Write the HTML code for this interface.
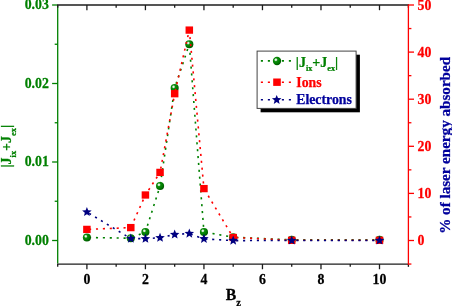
<!DOCTYPE html>
<html><head><meta charset="utf-8"><title>Plot</title>
<style>
html,body{margin:0;padding:0;background:#fff;}
svg{display:block;}
text{font-family:"Liberation Serif","Times New Roman",serif;font-weight:bold;}
</style></head><body>
<svg width="452" height="306" viewBox="0 0 452 306">
<defs>
<radialGradient id="ball" cx="0.37" cy="0.36" r="0.62" fx="0.36" fy="0.35">
<stop offset="0" stop-color="#ffffff"/>
<stop offset="0.14" stop-color="#d8eed8"/>
<stop offset="0.36" stop-color="#0c8c0c"/>
<stop offset="0.75" stop-color="#007a00"/>
<stop offset="1" stop-color="#005a00"/>
</radialGradient>
</defs>
<rect x="0" y="0" width="452" height="306" fill="#ffffff"/>
<g stroke="#008000" stroke-width="1.6" stroke-dasharray="2.1 4.8" stroke-dashoffset="1.75" fill="none"><line x1="130.79" y1="238.20" x2="86.90" y2="237.50"/><line x1="145.42" y1="232.00" x2="130.79" y2="238.20"/><line x1="160.05" y1="186.00" x2="145.42" y2="232.00"/><line x1="174.68" y1="88.00" x2="160.05" y2="186.00"/><line x1="189.31" y1="44.20" x2="174.68" y2="88.00"/><line x1="203.94" y1="232.00" x2="189.31" y2="44.20"/><line x1="233.20" y1="237.20" x2="203.94" y2="232.00"/><line x1="291.72" y1="239.90" x2="233.20" y2="237.20"/><line x1="379.50" y1="239.90" x2="291.72" y2="239.90"/></g>
<g fill="url(#ball)"><circle cx="86.90" cy="237.50" r="4.05"/><circle cx="130.79" cy="238.20" r="4.05"/><circle cx="145.42" cy="232.00" r="4.05"/><circle cx="160.05" cy="186.00" r="4.05"/><circle cx="174.68" cy="88.00" r="4.05"/><circle cx="189.31" cy="44.20" r="4.05"/><circle cx="203.94" cy="232.00" r="4.05"/><circle cx="233.20" cy="237.20" r="4.05"/><circle cx="291.72" cy="239.90" r="4.05"/><circle cx="379.50" cy="239.90" r="4.05"/></g>
<g stroke="#ff0000" stroke-width="1.6" stroke-dasharray="2.1 4.8" stroke-dashoffset="1.75" fill="none"><line x1="130.79" y1="227.60" x2="86.90" y2="229.40"/><line x1="145.42" y1="195.00" x2="130.79" y2="227.60"/><line x1="160.05" y1="172.40" x2="145.42" y2="195.00"/><line x1="174.68" y1="93.70" x2="160.05" y2="172.40"/><line x1="189.31" y1="30.10" x2="174.68" y2="93.70"/><line x1="203.94" y1="188.60" x2="189.31" y2="30.10"/><line x1="233.20" y1="237.50" x2="203.94" y2="188.60"/><line x1="291.72" y1="240.30" x2="233.20" y2="237.50"/><line x1="379.50" y1="240.30" x2="291.72" y2="240.30"/></g>
<g fill="#ff0000"><rect x="83.15" y="225.75" width="7.5" height="7.3"/><rect x="127.04" y="223.95" width="7.5" height="7.3"/><rect x="141.67" y="191.35" width="7.5" height="7.3"/><rect x="156.30" y="168.75" width="7.5" height="7.3"/><rect x="170.93" y="90.05" width="7.5" height="7.3"/><rect x="185.56" y="26.45" width="7.5" height="7.3"/><rect x="200.19" y="184.95" width="7.5" height="7.3"/><rect x="229.45" y="233.85" width="7.5" height="7.3"/><rect x="287.97" y="236.65" width="7.5" height="7.3"/><rect x="375.75" y="236.65" width="7.5" height="7.3"/></g>
<g stroke="#000080" stroke-width="1.6" stroke-dasharray="2.1 4.8" stroke-dashoffset="1.75" fill="none"><line x1="130.79" y1="238.60" x2="86.90" y2="212.00"/><line x1="145.42" y1="238.70" x2="130.79" y2="238.60"/><line x1="160.05" y1="237.70" x2="145.42" y2="238.70"/><line x1="174.68" y1="234.50" x2="160.05" y2="237.70"/><line x1="189.31" y1="233.60" x2="174.68" y2="234.50"/><line x1="203.94" y1="238.90" x2="189.31" y2="233.60"/><line x1="233.20" y1="240.60" x2="203.94" y2="238.90"/><line x1="291.72" y1="240.50" x2="233.20" y2="240.60"/><line x1="379.50" y1="240.50" x2="291.72" y2="240.50"/></g>
<g fill="#000080"><polygon points="86.90,207.00 88.19,210.22 91.66,210.45 88.99,212.68 89.84,216.05 86.90,214.20 83.96,216.05 84.81,212.68 82.14,210.45 85.61,210.22"/><polygon points="130.79,233.60 132.08,236.82 135.55,237.05 132.88,239.28 133.73,242.65 130.79,240.80 127.85,242.65 128.70,239.28 126.03,237.05 129.50,236.82"/><polygon points="145.42,233.70 146.71,236.92 150.18,237.15 147.51,239.38 148.36,242.75 145.42,240.90 142.48,242.75 143.33,239.38 140.66,237.15 144.13,236.92"/><polygon points="160.05,232.70 161.34,235.92 164.81,236.15 162.14,238.38 162.99,241.75 160.05,239.90 157.11,241.75 157.96,238.38 155.29,236.15 158.76,235.92"/><polygon points="174.68,229.50 175.97,232.72 179.44,232.95 176.77,235.18 177.62,238.55 174.68,236.70 171.74,238.55 172.59,235.18 169.92,232.95 173.39,232.72"/><polygon points="189.31,228.60 190.60,231.82 194.07,232.05 191.40,234.28 192.25,237.65 189.31,235.80 186.37,237.65 187.22,234.28 184.55,232.05 188.02,231.82"/><polygon points="203.94,233.90 205.23,237.12 208.70,237.35 206.03,239.58 206.88,242.95 203.94,241.10 201.00,242.95 201.85,239.58 199.18,237.35 202.65,237.12"/><polygon points="233.20,235.60 234.49,238.82 237.96,239.05 235.29,241.28 236.14,244.65 233.20,242.80 230.26,244.65 231.11,241.28 228.44,239.05 231.91,238.82"/><polygon points="291.72,235.50 293.01,238.72 296.48,238.95 293.81,241.18 294.66,244.55 291.72,242.70 288.78,244.55 289.63,241.18 286.96,238.95 290.43,238.72"/><polygon points="379.50,235.50 380.79,238.72 384.26,238.95 381.59,241.18 382.44,244.55 379.50,242.70 376.56,244.55 377.41,241.18 374.74,238.95 378.21,238.72"/></g>
<g stroke="#008000" stroke-width="1.3" fill="none"><line x1="57.70" y1="5.60" x2="57.70" y2="263.45"/><line x1="52.10" y1="240.50" x2="57.70" y2="240.50"/><line x1="54.70" y1="201.25" x2="57.70" y2="201.25"/><line x1="52.10" y1="162.00" x2="57.70" y2="162.00"/><line x1="54.70" y1="122.75" x2="57.70" y2="122.75"/><line x1="52.10" y1="83.50" x2="57.70" y2="83.50"/><line x1="54.70" y1="44.25" x2="57.70" y2="44.25"/><line x1="52.10" y1="5.00" x2="57.70" y2="5.00"/></g>
<g stroke="#1c1c1c" stroke-width="1.3" fill="none"><line x1="57.10" y1="5.00" x2="409.00" y2="5.00"/><line x1="57.10" y1="264.05" x2="409.00" y2="264.05"/><line x1="57.70" y1="5.00" x2="57.70" y2="7.80"/><line x1="57.70" y1="264.05" x2="57.70" y2="266.85"/><line x1="86.90" y1="5.00" x2="86.90" y2="10.20"/><line x1="86.90" y1="264.05" x2="86.90" y2="269.25"/><line x1="116.16" y1="5.00" x2="116.16" y2="7.80"/><line x1="116.16" y1="264.05" x2="116.16" y2="266.85"/><line x1="145.42" y1="5.00" x2="145.42" y2="10.20"/><line x1="145.42" y1="264.05" x2="145.42" y2="269.25"/><line x1="174.68" y1="5.00" x2="174.68" y2="7.80"/><line x1="174.68" y1="264.05" x2="174.68" y2="266.85"/><line x1="203.94" y1="5.00" x2="203.94" y2="10.20"/><line x1="203.94" y1="264.05" x2="203.94" y2="269.25"/><line x1="233.20" y1="5.00" x2="233.20" y2="7.80"/><line x1="233.20" y1="264.05" x2="233.20" y2="266.85"/><line x1="262.46" y1="5.00" x2="262.46" y2="10.20"/><line x1="262.46" y1="264.05" x2="262.46" y2="269.25"/><line x1="291.72" y1="5.00" x2="291.72" y2="7.80"/><line x1="291.72" y1="264.05" x2="291.72" y2="266.85"/><line x1="320.98" y1="5.00" x2="320.98" y2="10.20"/><line x1="320.98" y1="264.05" x2="320.98" y2="269.25"/><line x1="350.24" y1="5.00" x2="350.24" y2="7.80"/><line x1="350.24" y1="264.05" x2="350.24" y2="266.85"/><line x1="379.50" y1="5.00" x2="379.50" y2="10.20"/><line x1="379.50" y1="264.05" x2="379.50" y2="269.25"/><line x1="408.40" y1="5.00" x2="408.40" y2="7.80"/><line x1="408.40" y1="264.05" x2="408.40" y2="266.85"/></g>
<g stroke="#ff0000" stroke-width="1.3" fill="none"><line x1="408.40" y1="4.40" x2="408.40" y2="264.65"/><line x1="408.40" y1="264.05" x2="411.40" y2="264.05"/><line x1="408.40" y1="240.50" x2="414.00" y2="240.50"/><line x1="408.40" y1="216.95" x2="411.40" y2="216.95"/><line x1="408.40" y1="193.40" x2="414.00" y2="193.40"/><line x1="408.40" y1="169.85" x2="411.40" y2="169.85"/><line x1="408.40" y1="146.30" x2="414.00" y2="146.30"/><line x1="408.40" y1="122.75" x2="411.40" y2="122.75"/><line x1="408.40" y1="99.20" x2="414.00" y2="99.20"/><line x1="408.40" y1="75.65" x2="411.40" y2="75.65"/><line x1="408.40" y1="52.10" x2="414.00" y2="52.10"/><line x1="408.40" y1="28.55" x2="411.40" y2="28.55"/><line x1="408.40" y1="5.00" x2="414.00" y2="5.00"/></g>
<text transform="translate(48.90,244.70) scale(0.975,1)" font-size="14.2" fill="#008000" stroke="#008000" stroke-width="0.25" text-anchor="end">0.00</text>
<text transform="translate(48.90,166.20) scale(0.975,1)" font-size="14.2" fill="#008000" stroke="#008000" stroke-width="0.25" text-anchor="end">0.01</text>
<text transform="translate(48.90,87.70) scale(0.975,1)" font-size="14.2" fill="#008000" stroke="#008000" stroke-width="0.25" text-anchor="end">0.02</text>
<text transform="translate(48.90,9.20) scale(0.975,1)" font-size="14.2" fill="#008000" stroke="#008000" stroke-width="0.25" text-anchor="end">0.03</text>
<text transform="translate(417.50,245.05) scale(0.975,1)" font-size="14.2" fill="#ff0000" stroke="#ff0000" stroke-width="0.25" text-anchor="start">0</text>
<text transform="translate(417.50,197.95) scale(0.975,1)" font-size="14.2" fill="#ff0000" stroke="#ff0000" stroke-width="0.25" text-anchor="start">10</text>
<text transform="translate(417.50,150.85) scale(0.975,1)" font-size="14.2" fill="#ff0000" stroke="#ff0000" stroke-width="0.25" text-anchor="start">20</text>
<text transform="translate(417.50,103.75) scale(0.975,1)" font-size="14.2" fill="#ff0000" stroke="#ff0000" stroke-width="0.25" text-anchor="start">30</text>
<text transform="translate(417.50,56.65) scale(0.975,1)" font-size="14.2" fill="#ff0000" stroke="#ff0000" stroke-width="0.25" text-anchor="start">40</text>
<text transform="translate(417.50,9.55) scale(0.975,1)" font-size="14.2" fill="#ff0000" stroke="#ff0000" stroke-width="0.25" text-anchor="start">50</text>
<text transform="translate(86.90,284.00) scale(0.975,1)" font-size="14.2" fill="#000000" stroke="#000000" stroke-width="0.25" text-anchor="middle">0</text>
<text transform="translate(145.42,284.00) scale(0.975,1)" font-size="14.2" fill="#000000" stroke="#000000" stroke-width="0.25" text-anchor="middle">2</text>
<text transform="translate(203.94,284.00) scale(0.975,1)" font-size="14.2" fill="#000000" stroke="#000000" stroke-width="0.25" text-anchor="middle">4</text>
<text transform="translate(262.46,284.00) scale(0.975,1)" font-size="14.2" fill="#000000" stroke="#000000" stroke-width="0.25" text-anchor="middle">6</text>
<text transform="translate(320.98,284.00) scale(0.975,1)" font-size="14.2" fill="#000000" stroke="#000000" stroke-width="0.25" text-anchor="middle">8</text>
<text transform="translate(379.50,284.00) scale(0.975,1)" font-size="14.2" fill="#000000" stroke="#000000" stroke-width="0.25" text-anchor="middle">10</text>
<text transform="translate(225.80,300.30) scale(0.95,1)" font-size="16.6" fill="#000000" stroke="#000000" stroke-width="0.25" text-anchor="start">B<tspan font-size="11" dy="5.8">z</tspan></text>
<text transform="translate(10.90,167.50) rotate(-90) scale(0.915,1)" font-size="15.3" fill="#008000" stroke="#008000" stroke-width="0.25" text-anchor="start">|J<tspan font-size="9.2" dy="4.8">ix</tspan><tspan dy="-4.8">+J</tspan><tspan font-size="9.2" dy="4.8">ex</tspan><tspan dy="-4.8">|</tspan></text>
<text transform="translate(449.80,233.80) rotate(-90) scale(0.995,1)" font-size="15.2" fill="#00009c" stroke="#00009c" stroke-width="0.25" text-anchor="start">% of laser energy absorbed</text>
<rect x="260.6" y="54.7" width="99.3" height="57.6" fill="#000000"/>
<rect x="257.1" y="51.1" width="99" height="57.3" fill="#ffffff" stroke="#444444" stroke-width="1"/>
<line x1="260.85" y1="60.9" x2="291.2" y2="60.9" stroke="#008000" stroke-width="1.6" stroke-dasharray="2.1 4.9"/><line x1="260.85" y1="82.2" x2="291.2" y2="82.2" stroke="#ff0000" stroke-width="1.6" stroke-dasharray="2.1 4.9"/><line x1="260.85" y1="99.7" x2="291.2" y2="99.7" stroke="#000080" stroke-width="1.6" stroke-dasharray="2.1 4.9"/><circle cx="277.0" cy="61.0" r="4.15" fill="url(#ball)"/><rect x="273.2" y="78.5" width="7.6" height="7.4" fill="#ff0000"/><g fill="#000080"><polygon points="276.70,94.90 277.99,98.12 281.46,98.35 278.79,100.58 279.64,103.95 276.70,102.10 273.76,103.95 274.61,100.58 271.94,98.35 275.41,98.12"/></g>
<text transform="translate(295.80,66.60) scale(0.915,1)" font-size="15.3" fill="#008000" stroke="#008000" stroke-width="0.25" text-anchor="start">|J<tspan font-size="9.0" dy="4.3">ix</tspan><tspan dy="-4.3">+J</tspan><tspan font-size="9.0" dy="4.3">ex</tspan><tspan dy="-4.3">|</tspan></text>
<text transform="translate(296.30,87.30)" font-size="13.8" fill="#ff0000" stroke="#ff0000" stroke-width="0.25" text-anchor="start">Ions</text>
<text transform="translate(296.20,104.30)" font-size="13.8" fill="#00009c" stroke="#00009c" stroke-width="0.25" text-anchor="start">Electrons</text>
</svg>
</body></html>
